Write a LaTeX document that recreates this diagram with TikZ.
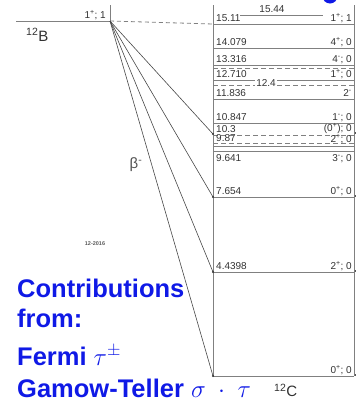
\documentclass[tikz,border=0pt]{standalone}
\usepackage{fontspec}
\setmainfont{Liberation Sans}
\setsansfont{Liberation Sans}
\definecolor{lg}{RGB}{128,128,128}
\definecolor{tg}{RGB}{50,50,50}
\definecolor{cblue}{RGB}{15,25,230}
\begin{document}
\begin{tikzpicture}[x=1pt,y=-1pt,
  lvl/.style={draw=lg,line width=0.9pt},
  dlvl/.style={draw=lg,line width=0.9pt,dash pattern=on 5pt off 3pt},
  lab/.style={font=\fontsize{10}{10}\selectfont, text=tg, inner sep=0pt},
  L/.style={lab,anchor=base west},
  R/.style={lab,anchor=base east},
  betaline/.style={draw=tg!90, line width=0.6pt},
  enddot/.style={fill=tg},
  big/.style={font=\fontsize{25.5}{26}\selectfont\bfseries, text=cblue, inner sep=0pt, anchor=base west}]
\useasboundingbox (0,0) rectangle (356,402);
% blue fragment at top
\fill[cblue] (330,-4) circle (7.5);
% 12B level
\coordinate (Bl) at (16,21);
\coordinate (Bv) at (110,21);
\coordinate (Bt) at (110,5);
\draw[lvl] (Bl) -- (Bv) -- (Bt);
\node[R] (Bspin) at (106,18.5) {1\textsuperscript{+}; 1};
\node[font=\fontsize{15}{15}\selectfont, text=tg, anchor=base west, inner sep=0] (Blab) at (26,41) {\textsuperscript{12}B};
% 12C box
\coordinate (Ctl) at (213,5);
\coordinate (Cbl) at (213,376);
\coordinate (Ctr) at (354,5);
\coordinate (Cbr) at (354,376);
\draw[lvl] (Ctl) -- (Cbl);
\draw[lvl] (Ctr) -- (Cbr);
% dashed isobaric analog link
\coordinate (A1511) at (213,24);
\draw[draw=lg,line width=0.8pt,dash pattern=on 4pt off 3pt] (Bv) -- (A1511);
% levels
\draw[lvl] (240,15) -- (323,15);
\node[lab,anchor=base] (l1544) at (272,12) {15.44};
\draw[lvl] (213,24) -- (354,24);
\node[L] (l1511) at (216,21.5) {15.11};
\node[R] (s1511) at (352,21.5) {1\textsuperscript{+}; 1};
\draw[lvl] (213,48) -- (354,48);
\node[L] (l14079) at (216,45.5) {14.079};
\node[R] (s14079) at (352,45.5) {4\textsuperscript{+}; 0};
\draw[lvl] (213,65) -- (354,65);
\draw[dlvl] (213,68) -- (354,68);
\node[L] (l13316) at (216,62.5) {13.316};
\node[R] (s13316) at (352,62.5) {4\textsuperscript{-}; 0};
\draw[lvl] (213,80) -- (354,80);
\node[L] (l12710) at (216,77.5) {12.710};
\node[R] (s12710) at (352,77.5) {1\textsuperscript{+}; 0};
\draw[dlvl] (213,85) -- (354,85);
\node[lab,fill=white,inner sep=1pt] (l124) at (266,83.5) {12.4};
\draw[lvl] (213,99) -- (354,99);
\node[L] (l11836) at (216,96.5) {11.836};
\node[R] (s11836) at (352,96.5) {2\textsuperscript{-}};
\draw[lvl] (213,123) -- (354,123);
\node[L] (l10847) at (216,120.5) {10.847};
\node[R] (s10847) at (352,120.5) {1\textsuperscript{-}; 0};
\draw[dlvl] (213,135) -- (354,135);
\node[L] (l103) at (216,132) {10.3};
\node[R] (s103) at (352,131.5) {(0\textsuperscript{+}); 0};
\draw[dlvl] (213,143) -- (354,143);
\draw[lvl] (213,146.5) -- (354,146.5);
\node[L] (l987) at (216,141.5) {9.87};
\node[R] (s987) at (352,142) {2\textsuperscript{+}; 0};
\draw[lvl] (213,151) -- (354,151);
\node[L] (l9641) at (216,161) {9.641};
\node[R] (s9641) at (352,161) {3\textsuperscript{-}; 0};
\draw[lvl] (213,197) -- (354,197);
\node[L] (l7654) at (216,194.5) {7.654};
\node[R] (s7654) at (352,194.5) {0\textsuperscript{+}; 0};
\draw[lvl] (213,272) -- (354,272);
\node[L] (l4439) at (216,269.5) {4.4398};
\node[R] (s4439) at (352,269.5) {2\textsuperscript{+}; 0};
\draw[lvl] (213,376) -- (354,376);
\node[R] (s0) at (352,373.5) {0\textsuperscript{+}; 0};
% beta decay branches
\coordinate (e103) at (213,134);
\coordinate (e7) at (213,197);
\coordinate (e4) at (213,272);
\coordinate (e0) at (213,376);
\foreach \e in {e103,e7,e4,e0}{
  \draw[betaline] (Bv) -- (\e);
  \fill[enddot] (\e) circle (1.2);
}
% small marks on right edge
\foreach \yy in {134,197,272,376}{\fill[tg] (355.5,\yy-1) circle (0.8);}
\node[font=\fontsize{15}{15}\selectfont, text=tg!85, inner sep=0] (beta) at (136,165) {β\textsuperscript{-}};
\node[font=\fontsize{5.5}{6}\selectfont\bfseries, text=tg!80, inner sep=0] (date) at (95,244) {12-2016};
\node[font=\fontsize{15}{15}\selectfont, text=tg, anchor=base west, inner sep=0] (Clab) at (274,396.5) {\textsuperscript{12}C};
% blue text
\node[big] (t1) at (17,297) {Contributions};
\node[big] (t2) at (17,327) {from:};
\node[big] (t3) at (17,365) {Fermi $\tau^{\pm}$};
\node[big] (t4) at (17,397) {Gamow-Teller $\sigma\;\cdot\;\tau$};
\end{tikzpicture}
\end{document}
